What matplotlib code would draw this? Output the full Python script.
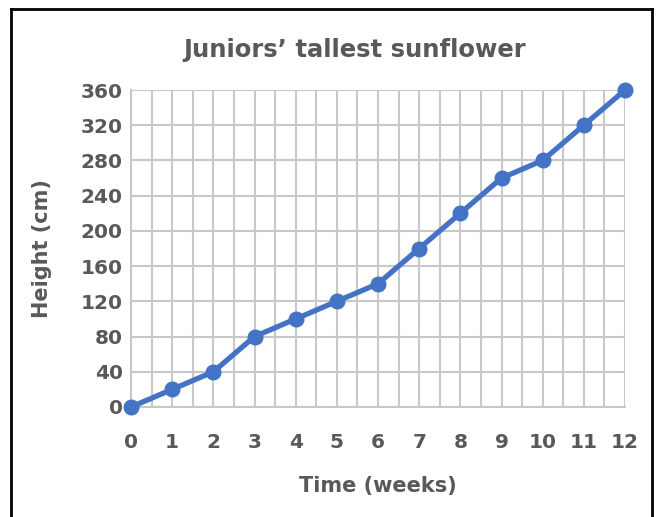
import matplotlib
matplotlib.use("Agg")
import matplotlib.pyplot as plt
from matplotlib.lines import Line2D
import numpy as np

weeks = [0, 1, 2, 3, 4, 5, 6, 7, 8, 9, 10, 11, 12]
heights = [0, 20, 40, 80, 100, 120, 140, 180, 220, 260, 280, 320, 360]
yticks = [0, 40, 80, 120, 160, 200, 240, 280, 320, 360]

plt.rcParams['font.family'] = ['DejaVu Sans']
txt = '#595959'
grid = '#c8c8c8'
blue = '#4472c4'

fig = plt.figure(figsize=(6.62, 5.17), dpi=100)
ax = fig.add_axes([131/662, 1-407/517, (625-131)/662, (407-90)/517])

ax.plot(weeks, heights, color=blue, lw=3.8, marker='o', ms=10.5,
        clip_on=False, zorder=5)
ax.set_xlim(0, 12)
ax.set_ylim(0, 360)
ax.set_xticks(weeks)
ax.set_xticks(np.arange(0.5, 12, 1), minor=True)
ax.set_yticks(yticks)
ax.grid(True, which='both', axis='x', color=grid, lw=1.5)
ax.grid(True, which='major', axis='y', color=grid, lw=1.5)
ax.set_axisbelow(True)
for s in ['top', 'right']:
    ax.spines[s].set_visible(False)
for s in ['left', 'bottom']:
    ax.spines[s].set_color(grid)
    ax.spines[s].set_linewidth(1.5)
ax.tick_params(which='both', length=0)
ax.tick_params(axis='x', pad=19, labelsize=14.5, labelcolor=txt)
ax.tick_params(axis='y', pad=6, labelsize=14.5, labelcolor=txt)
for lab in ax.get_xticklabels() + ax.get_yticklabels():
    lab.set_fontweight('bold')

ax.set_xlabel('Time (weeks)', fontsize=15, color=txt, fontweight='bold', labelpad=17)
ax.set_ylabel('Height (cm)', fontsize=15, color=txt, fontweight='bold', labelpad=21)
fig.text(355/662, 1-50/517, 'Juniors\u2019 tallest sunflower',
         ha='center', va='center', fontsize=17.5, color=txt, fontweight='bold')

# outer border
bx0, bx1, by = 11/662, 652/662, 1-9/517
fig.add_artist(Line2D([bx0, bx0], [0, by], color='black', lw=2, transform=fig.transFigure))
fig.add_artist(Line2D([bx1, bx1], [0, by], color='black', lw=2, transform=fig.transFigure))
fig.add_artist(Line2D([bx0, bx1], [by, by], color='black', lw=2, transform=fig.transFigure))

fig.savefig('out.png', dpi=100)
